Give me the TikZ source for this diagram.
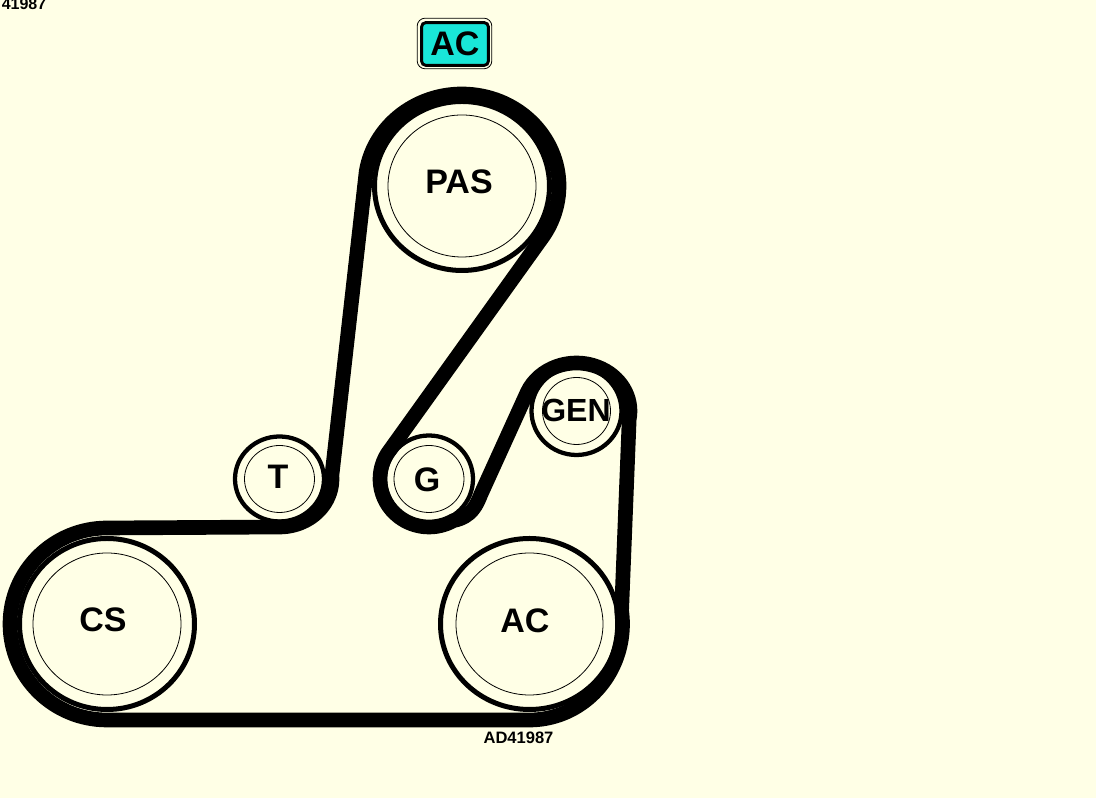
\documentclass[tikz,border=0pt]{standalone}
\usepackage{fontspec}
\setmainfont{Liberation Sans}
\definecolor{paper}{RGB}{255,255,230}
\definecolor{acfill}{RGB}{25,230,216}
\tikzset{
  belt/.style = {line width=11pt, line join=round},
  ring/.style = {line width=3.75pt},
  smallring/.style = {line width=3.2pt},
  thinring/.style = {line width=0.6pt},
  bigtext/.style = {font=\fontsize{25.5}{26}\selectfont\bfseries, inner sep=0pt},
  gentext/.style = {font=\fontsize{24}{24}\selectfont\bfseries, inner sep=0pt},
  smalltext/.style = {font=\fontsize{12.4}{13}\selectfont\bfseries, inner sep=0pt},
}
\begin{document}
\begin{tikzpicture}[x=0.75pt, y=0.75pt]
    \useasboundingbox (0, 0) rectangle (1096, 798);
    \fill [paper] (0, 0) rectangle (1096, 798);

    \coordinate (pas) at (462, 612);
    \coordinate (t) at (279.5, 319);
    \coordinate (g) at (429, 319);
    \coordinate (gen) at (576.5, 387);
    \coordinate (cs) at (107, 174);
    \coordinate (ac) at (529.5, 174);

    % rings and inner lines
    \foreach \p/\rx/\ry/\ix/\iy in {pas/87.5/84.5/74/71, cs/87.5/85.5/74/71, ac/89/85.5/73.5/71} {
      \draw [ring] (\p) ellipse [x radius=\rx, y radius=\ry];
      \draw [thinring] (\p) ellipse [x radius=\ix, y radius=\iy];
    }
    \foreach \p/\rx/\ry/\ix/\iy in {t/44.5/42.5/35/33.5, g/44/43.5/35/33.5, gen/45/44/34/33.5} {
      \draw [smallring] (\p) ellipse [x radius=\rx, y radius=\ry];
      \draw [thinring] (\p) ellipse [x radius=\ix, y radius=\iy];
    }

    % the belt
    \draw [belt] ([shift={(pas)}]171:97 and 92) arc [start angle=171, end angle=-36, x radius=97, y radius=92]
      -- ([shift={(g)}]142:49 and 48) arc [start angle=142, end angle=300, x radius=49, y radius=48]
      .. controls (472, 281) and (477, 294) .. (481, 304)
      -- ([shift={(gen)}]157:53.5 and 48) arc [start angle=157, end angle=-10, x radius=53.5, y radius=48]
      -- ([shift={(ac)}]8:93 and 96) arc [start angle=8, end angle=-90, x radius=93, y radius=96]
      -- ([shift={(cs)}]270:97 and 96) arc [start angle=270, end angle=90, x radius=97, y radius=96]
      -- ([shift={(t)}]270:52.5 and 48) arc [start angle=270, end angle=364, x radius=52.5, y radius=48]
      -- cycle;

    \node [bigtext] (paslabel) at (459, 616) {PAS};
    \node [bigtext] (tlabel) at (278, 321) {T};
    \node [bigtext] (glabel) at (427, 318) {G};
    \node [gentext] (genlabel) at (576, 388) {GEN};
    \node [bigtext] (cslabel) at (103, 178) {CS};
    \node [bigtext] (aclabel) at (525, 177) {AC};

    \node [draw, line width=0.6pt, rounded corners=6pt, minimum width=56pt, minimum height=38pt] (acouter) at (454.5, 754.5) {};
    \node [draw, line width=2.2pt, rounded corners=3pt, fill=acfill, minimum width=50pt, minimum height=32pt, bigtext] (acbox) at (455, 754) {AC};

    \node [smalltext] (adlabel) at (518.5, 60) {AD41987};
    \node [font=\fontsize{12}{12}\selectfont\bfseries, inner sep=0pt] (toplabel) at (24, 794) {41987};
\end{tikzpicture}
\end{document}
